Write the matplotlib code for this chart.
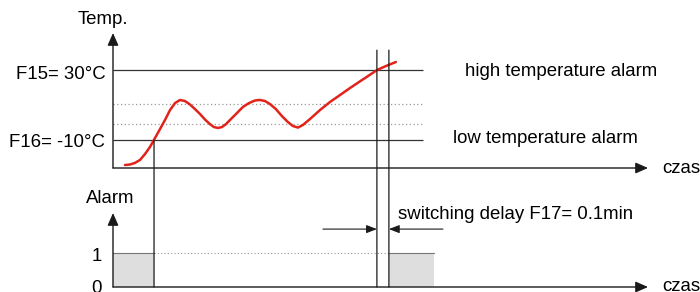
import matplotlib
matplotlib.use('Agg')
import matplotlib.pyplot as plt
from matplotlib.patches import ConnectionPatch

plt.rcParams['font.family'] = ['Liberation Sans', 'DejaVu Sans']
plt.rcParams['font.size'] = 13.4

# Temperature curve (time in min, temperature in degC)
time = [0.100, 0.142, 0.183, 0.225, 0.267, 0.308, 0.350, 0.392, 0.433, 0.475,
        0.517, 0.558, 0.600, 0.642, 0.683, 0.725, 0.767, 0.808, 0.842, 0.875,
        0.908, 0.942, 0.983, 1.033, 1.083, 1.133, 1.183, 1.225, 1.267, 1.308,
        1.358, 1.408, 1.458, 1.500, 1.542, 1.583, 1.642, 1.725, 1.808, 1.892,
        1.975, 2.058, 2.142, 2.200, 2.275, 2.358]
temp = [-24.3, -24.0, -23.1, -21.4, -18.0, -14.0, -8.9, -3.7, 1.4, 7.1,
        11.1, 12.9, 12.3, 10.3, 7.7, 4.9, 1.7, -0.9, -2.6, -3.1,
        -2.6, -0.9, 2.0, 5.4, 8.9, 11.1, 12.6, 12.9, 12.3, 10.6,
        7.7, 3.7, 0.3, -2.0, -2.9, -1.4, 2.0, 7.1, 11.7, 15.7,
        19.7, 23.5, 27.3, 30.0, 32.3, 34.6]

f15 = 30          # high temperature alarm
f16 = -10         # low temperature alarm
dotted_levels = [10.5, -1]
f17 = 0.1         # switching delay, min
t_low_end = 0.342   # temperature rises above F16
t_high = 2.2        # temperature crosses F15
t_alarm_end = 2.675
alarm_on = [(0, t_low_end), (t_high + f17, t_alarm_end)]

dark = '#1a1a1a'
red = '#e2231a'

fig = plt.figure(figsize=(7, 2.92), dpi=100)
ax_t = fig.add_axes([113 / 700, 1 - 168 / 292, 535 / 700, 135 / 292])
ax_a = fig.add_axes([113 / 700, 5 / 292, 535 / 700, 74 / 292])
ax_t.set_xlim(0, 4.46)
ax_t.set_ylim(-26, 51.2)
ax_a.set_xlim(0, 4.46)
ax_a.set_ylim(0, 2.18)
for ax in (ax_t, ax_a):
    ax.axis('off')
    kw = dict(arrowstyle='-|>,head_length=0.75,head_width=0.33', mutation_scale=10,
              color=dark, lw=1, shrinkA=0, shrinkB=0)
    ax.annotate('', xy=(0, 1), xytext=(0, 0), xycoords='axes fraction',
                arrowprops=kw, annotation_clip=False)
    ax.annotate('', xy=(1, 0), xytext=(0, 0), xycoords='axes fraction',
                arrowprops=kw, annotation_clip=False)

# top panel: thresholds and temperature
ax_t.hlines([f15, f16], 0, 2.583, color='#333333', lw=0.9)
ax_t.hlines(dotted_levels, 0, 2.59, color='#999999', lw=0.9, linestyles=(0, (1, 2)))
ax_t.plot(time, temp, color=red, lw=1.8, solid_capstyle='round', clip_on=False)

ax_t.text(-0.058, 24.9, 'F15= 30°C', ha='right', va='baseline')
ax_t.text(-0.067, -14, 'F16= -10°C', ha='right', va='baseline')
ax_t.text(-0.083, 56.3, 'Temp.', ha='center', va='baseline')
ax_t.text(2.933, 26.6, 'high temperature alarm', va='baseline')
ax_t.text(2.833, -11.9, 'low temperature alarm', va='baseline')
ax_t.text(4.575, -28.9, 'czas', va='baseline')

# bottom panel: alarm output
for a, b in alarm_on:
    ax_a.fill_between([a, b], 0, 1, color='#dedede', lw=0)
    ax_a.plot([a, b], [1, 1], color='#777777', lw=0.8)
ax_a.hlines(1, t_low_end, t_high + f17, color='#999999', lw=0.8, linestyles=(0, (1, 2)))

akw = dict(arrowstyle='-|>,head_length=0.9,head_width=0.35', mutation_scale=7,
           color=dark, lw=0.8, shrinkA=0, shrinkB=0)
ax_a.annotate('', xy=(t_high, 1.706), xytext=(1.75, 1.706), arrowprops=akw)
ax_a.annotate('', xy=(t_high + f17, 1.706), xytext=(2.75, 1.706), arrowprops=akw)

ax_a.text(2.375, 2.0, 'switching delay F17= 0.1min', va='baseline')
ax_a.text(-0.025, 2.47, 'Alarm', ha='center', va='baseline')
ax_a.text(-0.092, 0.765, '1', ha='right', va='baseline')
ax_a.text(-0.092, -0.176, '0', ha='right', va='baseline')
ax_a.text(4.575, -0.13, 'czas', va='baseline')

# vertical switching lines through both panels
for t, top in [(t_low_end, f16), (t_high, 41.4), (t_high + f17, 41.4)]:
    con = ConnectionPatch(xyA=(t, top), coordsA=ax_t.transData,
                          xyB=(t, 0), coordsB=ax_a.transData, color=dark, lw=0.9)
    fig.add_artist(con)

fig.savefig('out.png', dpi=100)
